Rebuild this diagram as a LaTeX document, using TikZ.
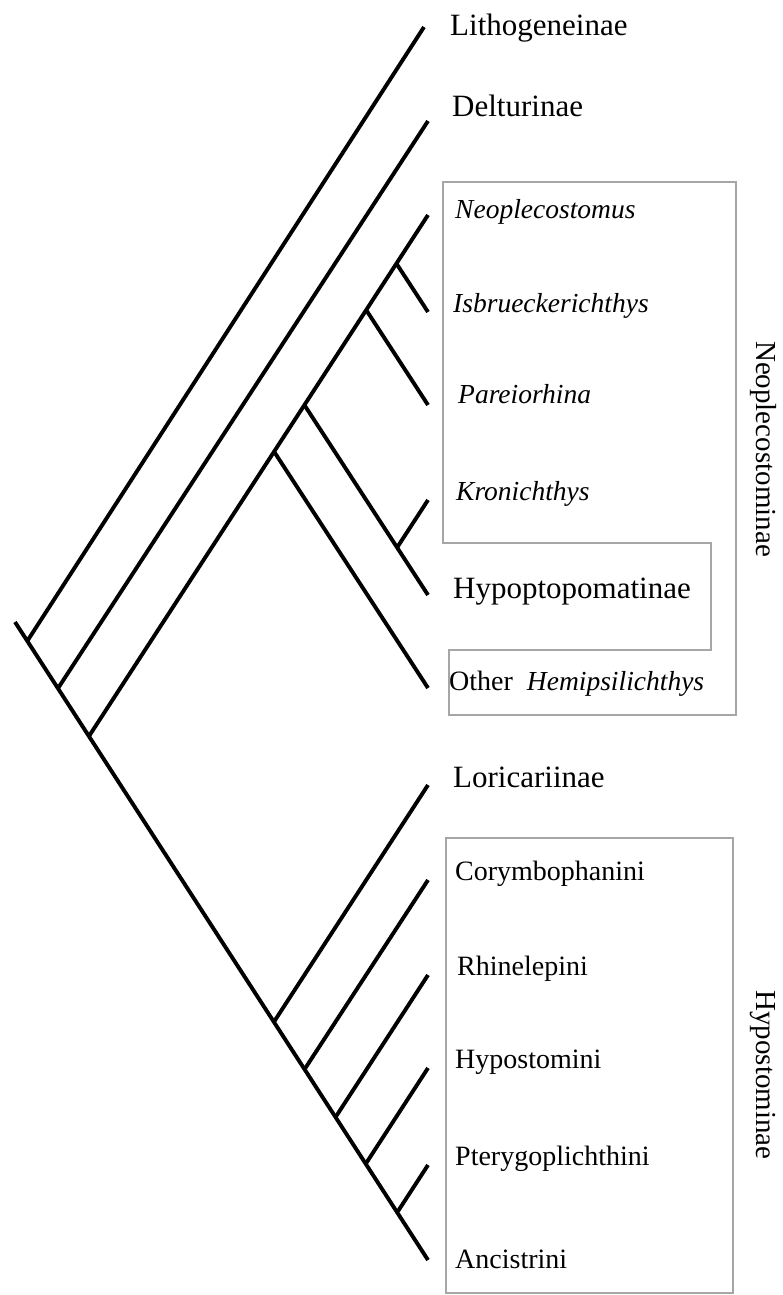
\documentclass[tikz,border=0pt]{standalone}
\usepackage{fontspec}
\setmainfont{Liberation Serif}
\begin{document}
\begin{tikzpicture}[x=1pt,y=-1pt,
  branch/.style={line width=3.9pt, line cap=butt},
  grp/.style={draw=gray!70, line width=1.5pt},
  taxon/.style={anchor=base west, inner sep=0pt, font=\fontsize{31}{31}\selectfont},
  genus/.style={anchor=base west, inner sep=0pt, font=\fontsize{27.5}{28}\selectfont\itshape},
  tribe/.style={anchor=base west, inner sep=0pt, font=\fontsize{28}{28}\selectfont},
  group/.style={rotate=-90, inner sep=0pt, font=\fontsize{29}{29}\selectfont}]
\fill[white] (0,0) rectangle (782,1295);
\useasboundingbox (0,0) rectangle (782,1295);

% group outlines
\draw[grp] (443,182) -- (736,182) -- (736,715) -- (449,715) -- (449,650)
  -- (711,650) -- (711,543) -- (443,543) -- cycle;
\draw[grp] (446,838) rectangle (733,1293);

% tips
\coordinate (tLitho) at (424,27);
\coordinate (tDelt)  at (428,121);
\coordinate (tNeo)   at (428,215);
\coordinate (tIsb)   at (428,312);
\coordinate (tPar)   at (428,405);
\coordinate (tKron)  at (428,500);
\coordinate (tHypop) at (428,595);
\coordinate (tOther) at (428,688);
\coordinate (tLori)  at (428,785);
\coordinate (tCory)  at (428,880);
\coordinate (tRhine) at (428,975);
\coordinate (tHypost) at (428,1068);
\coordinate (tPtery) at (428,1165);
\coordinate (tAnc)   at (428,1260);

% internal nodes
\coordinate (root)   at (15,622);
\coordinate (nLitho) at (27.3,641);
\coordinate (nDelt)  at (58.2,688);
\coordinate (nNeoCl) at (89.1,736);
\coordinate (nOther) at (274,451.5);
\coordinate (nHypCl) at (304.4,405);
\coordinate (nKron)  at (397.1,547.5);
\coordinate (nPar)   at (366.2,310);
\coordinate (nIsb)   at (396.4,263.5);
\coordinate (nLori)  at (274.5,1021);
\coordinate (nCory)  at (305.4,1068);
\coordinate (nRhine) at (336.3,1116);
\coordinate (nHypost) at (366.6,1162.5);
\coordinate (nPtery) at (398.1,1211);

% branches
\draw[branch] (root) -- (tAnc);
\draw[branch] (nLitho) -- (tLitho);
\draw[branch] (nDelt) -- (tDelt);
\draw[branch] (nNeoCl) -- (tNeo);
\draw[branch] (nOther) -- (tOther);
\draw[branch] (nHypCl) -- (tHypop);
\draw[branch] (nKron) -- (tKron);
\draw[branch] (nPar) -- (tPar);
\draw[branch] (nIsb) -- (tIsb);
\draw[branch] (nLori) -- (tLori);
\draw[branch] (nCory) -- (tCory);
\draw[branch] (nRhine) -- (tRhine);
\draw[branch] (nHypost) -- (tHypost);
\draw[branch] (nPtery) -- (tPtery);

% labels
\node[taxon] (lLitho) at (450,36) {Lithogeneinae};
\node[taxon] (lDelt)  at (452,117) {Delturinae};
\node[genus] (lNeo)   at (455,218) {Neoplecostomus};
\node[genus] (lIsb)   at (453,312) {Isbrueckerichthys};
\node[genus] (lPar)   at (458,403) {Pareiorhina};
\node[genus] (lKron)  at (456,500) {Kronichthys};
\node[taxon] (lHypop) at (453,598) {Hypoptopomatinae};
\node[tribe] (lOther) at (449,690) {Other\hspace{14pt}\itshape\fontsize{27.5}{28}\selectfont Hemipsilichthys};
\node[taxon] (lLori)  at (453,787) {Loricariinae};
\node[tribe] (lCory)  at (455,880) {Corymbophanini};
\node[tribe] (lRhine) at (457,975) {Rhinelepini};
\node[tribe] (lHypost) at (455,1068) {Hypostomini};
\node[tribe] (lPtery) at (455,1165) {Pterygoplichthini};
\node[tribe] (lAnc)   at (455,1268) {Ancistrini};

\node[group] (gNeo) at (763,449) {Neoplecostominae};
\node[group] (gHyp) at (763,1075) {Hypostominae};
\end{tikzpicture}
\end{document}
